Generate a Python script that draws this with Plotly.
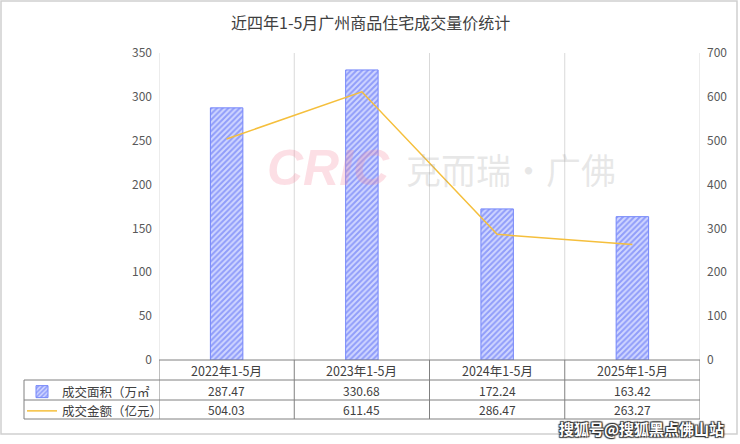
import plotly.graph_objects as go

categories = ["2022年1-5月", "2023年1-5月", "2024年1-5月", "2025年1-5月"]
area = [287.47, 330.68, 172.24, 163.42]
amount = [504.03, 611.45, 286.47, 263.27]
area_name = "成交面积（万㎡"
amount_name = "成交金额（亿元）"
title = "近四年1-5月广州商品住宅成交量价统计"
W, H = 740, 444
FONT = "Noto Sans CJK SC"

def fx(p):
    return p / W

def fy(p):
    return 1 - p / H

X0, X1, Y0, Y1 = 159, 700, 53, 360
ROW = [360, 380, 400, 419]
TL = 24
GRID = "#d9d9d9"
TBL = "#808080"

fig = go.Figure()
fig.add_trace(go.Bar(
    x=categories, y=area, name=area_name, width=0.24,
    marker=dict(color="#c9cffc", line=dict(color="#7486fa", width=1),
                pattern=dict(shape="/", fgcolor="#4f63f5", bgcolor="#d0d6ff", size=4, solidity=0.5)),
    yaxis="y",
))
fig.add_trace(go.Scatter(
    x=categories, y=amount, name=amount_name, mode="lines",
    line=dict(color="#f5bf3c", width=1.5), yaxis="y2",
))

shapes = []
for i in range(len(categories) + 1):
    shapes.append(dict(type="line", xref="x", yref="paper", x0=i - 0.5, x1=i - 0.5,
                       y0=fy(Y1), y1=fy(Y0), line=dict(color=GRID, width=1), layer="below"))
shapes.append(dict(type="line", xref="paper", yref="paper", x0=fx(X0), x1=fx(X1), y0=fy(ROW[0]), y1=fy(ROW[0]), line=dict(color=TBL, width=1)))
for r in ROW[1:]:
    shapes.append(dict(type="line", xref="paper", yref="paper", x0=fx(TL), x1=fx(X1), y0=fy(r), y1=fy(r), line=dict(color=TBL, width=1)))
shapes.append(dict(type="line", xref="paper", yref="paper", x0=fx(TL), x1=fx(TL), y0=fy(ROW[1]), y1=fy(ROW[3]), line=dict(color=TBL, width=1)))
for i in range(len(categories) + 1):
    shapes.append(dict(type="line", xref="x", yref="paper", x0=i - 0.5, x1=i - 0.5,
                       y0=fy(ROW[0]), y1=fy(ROW[3]), line=dict(color=TBL, width=1)))
shapes.append(dict(type="rect", xref="paper", yref="paper", x0=fx(1), x1=fx(737), y0=fy(1), y1=fy(434),
                   line=dict(color="#d0d0d0", width=1.5), fillcolor="rgba(0,0,0,0)"))

ann = []
tf = dict(family=FONT, size=12, color="#404040")
cf = dict(family=FONT, size=12.5, color="#404040")
for i, c in enumerate(categories):
    ann.append(dict(x=i, xref="x", y=fy((ROW[0] + ROW[1]) / 2), yref="paper", text=c, showarrow=False,
                    font=cf, xanchor="center", yanchor="middle"))
    ann.append(dict(x=i, xref="x", y=fy((ROW[1] + ROW[2]) / 2), yref="paper", text=f"{area[i]:.2f}", showarrow=False,
                    font=tf, xanchor="center", yanchor="middle"))
    ann.append(dict(x=i, xref="x", y=fy((ROW[2] + ROW[3]) / 2), yref="paper", text=f"{amount[i]:.2f}", showarrow=False,
                    font=tf, xanchor="center", yanchor="middle"))
ann.append(dict(x=fx(370), y=fy(22), xref="paper", yref="paper", text=title, showarrow=False,
                xanchor="center", yanchor="middle", font=dict(family=FONT, size=16, color="#404040")))
ann.append(dict(x=fx(392), y=fy(168), xref="paper", yref="paper", text="CRIC", showarrow=False,
                xanchor="right", yanchor="middle",
                font=dict(family="Liberation Sans", size=50, color="rgba(245,140,160,0.28)", weight="bold", style="italic")))
ann.append(dict(x=fx(404), y=fy(168), xref="paper", yref="paper", text="克而瑞·广佛", showarrow=False,
                xanchor="left", yanchor="middle",
                font=dict(family=FONT, size=35, color="rgba(160,160,160,0.25)")))
ann.append(dict(x=fx(726), y=fy(428), xref="paper", yref="paper", text="搜狐号@搜狐黑点佛山站", showarrow=False,
                xanchor="right", yanchor="middle",
                font=dict(family=FONT, size=15, color="white", weight="bold",
                          shadow="1px 1px 1px #333, -1px -1px 1px #333, 1px -1px 1px #333, -1px 1px 1px #333")))

axfont = dict(family=FONT, size=12, color="#595959")
fig.update_layout(
    width=W, height=H, margin=dict(l=0, r=0, t=0, b=0, autoexpand=False),
    paper_bgcolor="white", plot_bgcolor="white",
    showlegend=True,
    legend=dict(x=fx(22), y=fy(377), xanchor="left", yanchor="top", bgcolor="rgba(0,0,0,0)",
                font=dict(family=FONT, size=12.5, color="#404040"), tracegroupgap=0, itemwidth=30),
    xaxis=dict(domain=[fx(X0), fx(X1)], type="category", range=[-0.5, 3.5], showticklabels=False,
               showgrid=False, zeroline=False, showline=False, ticks="", automargin=False),
    yaxis=dict(domain=[fy(Y1), fy(Y0)], range=[0, 350], dtick=50, showgrid=False, zeroline=False,
               showline=False, tickfont=axfont, ticklabelstandoff=6, automargin=False),
    yaxis2=dict(overlaying="y", side="right", range=[0, 700], dtick=100, showgrid=False, zeroline=False,
                showline=False, tickfont=axfont, ticklabelstandoff=6, automargin=False),
    shapes=shapes, annotations=ann,
)
fig.write_html("out.html", config={"displayModeBar": False},
               post_script="document.body.style.margin='0';")
